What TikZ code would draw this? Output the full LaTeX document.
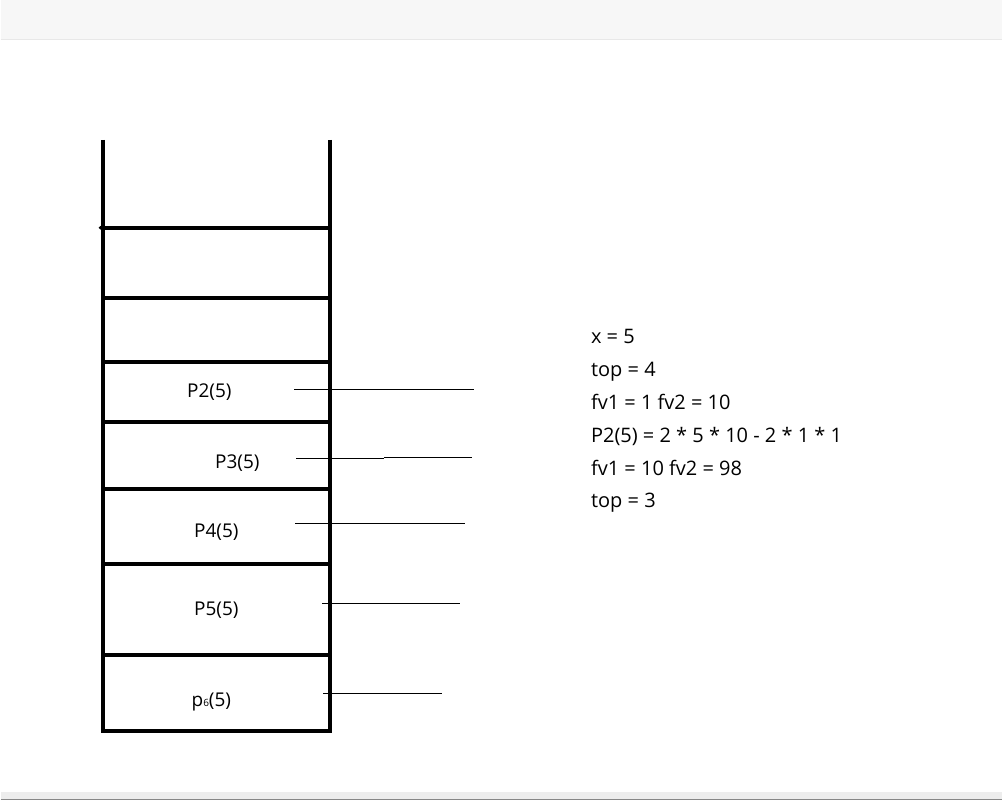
\documentclass[tikz,border=0pt]{standalone}
\usepackage{fontspec}
\setmainfont{Open Sans}
\begin{document}
\begin{tikzpicture}[x=1pt,y=-1pt,
  stackline/.style={line width=4pt,line cap=butt},
  link/.style={line width=0.8pt},
  cell/.style={anchor=base,inner sep=0pt,font=\fontsize{19}{19}\selectfont},
  note/.style={anchor=base west,inner sep=0pt,font=\fontsize{20}{20}\selectfont}]
% background and bands
\fill[white] (0,0) rectangle (1003,801);
\fill[black!3] (0,0) rectangle (1003,39.5);
\draw[black!9,line width=1pt] (0,39.5) -- (1003,39.5);
\fill[black!7] (0,793) rectangle (1003,801);
\draw[black!47,line width=1.2pt] (0,800.4) -- (1003,800.4);
% stack frame
\draw[stackline] (103,140) -- (103,731);
\draw[stackline] (330,140) -- (330,177);
\draw[stackline] (329.5,177) -- (329.5,731);
\draw[stackline] (101,732) -- (332,732);
\foreach \yy in {228,298,362,422,490,565,656} {
  \draw[stackline] (103,\yy) -- (330,\yy);
}
\fill (100,228) circle (1.8pt);
% cell labels
\node[cell] (p2) at (209,398) {P2(5)};
\node[cell] (p3) at (237,469) {P3(5)};
\node[cell] (p4) at (216,538.5) {P4(5)};
\node[cell] (p5) at (216,616.5) {P5(5)};
\node[cell] (p6) at (211,707.5) {p{\fontsize{10}{10}\selectfont 6}(5)};
% pointer lines
\coordinate (a2) at (294,389.5);
\coordinate (b2) at (474,389.5);
\draw[link] (a2) -- (b2);
\coordinate (a3) at (296,458.5);
\coordinate (m3) at (384,458.5);
\coordinate (n3) at (384,457.5);
\coordinate (b3) at (472,457.5);
\draw[link] (a3) -- (m3);
\draw[link] (n3) -- (b3);
\coordinate (a4) at (295,524);
\coordinate (b4) at (465,524);
\draw[link] (a4) -- (b4);
\coordinate (a5) at (322,604.5);
\coordinate (b5) at (460,604.5);
\draw[link] (a5) -- (b5);
\coordinate (a6) at (323,694.5);
\coordinate (b6) at (442,694.5);
\draw[link] (a6) -- (b6);
% notes
\node[note] (t1) at (591,344) {x = 5};
\node[note] (t2) at (591,377) {top = 4};
\node[note] (t3) at (591,410) {fv1 = 1 fv2 = 10};
\node[note] (t4) at (591,443) {P2(5) = 2 * 5 * 10 - 2 * 1 * 1};
\node[note] (t5) at (591,476) {fv1 = 10 fv2 = 98};
\node[note] (t6) at (591,508) {top = 3};
\end{tikzpicture}
\end{document}
